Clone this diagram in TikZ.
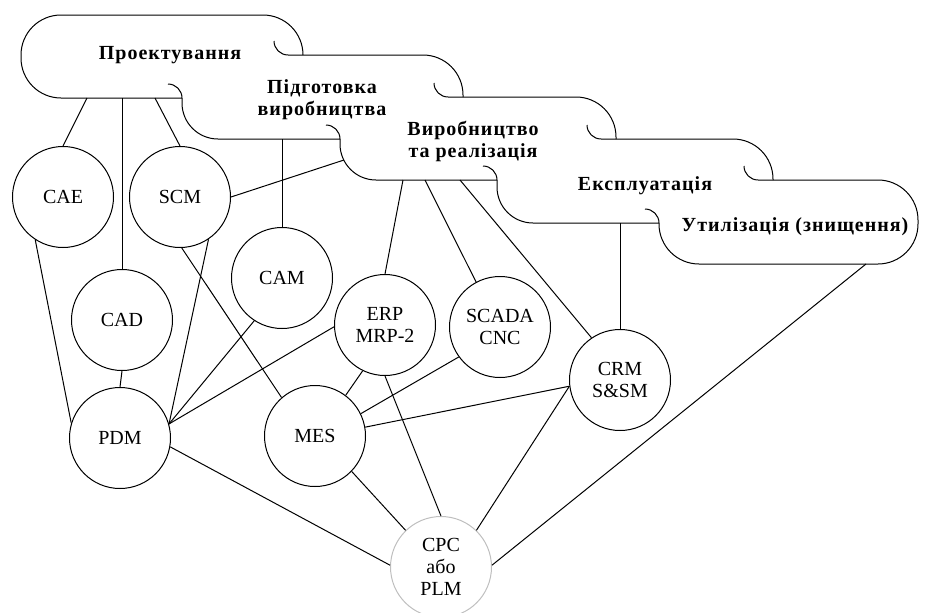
\documentclass[tikz,border=0pt]{standalone}
\usepackage{fontspec}
\setmainfont{Liberation Serif}
\newfontfamily\stagefont[LetterSpace=5]{Liberation Serif}
\usepackage{tikz}

\tikzset{
  sys/.style={circle,draw,minimum size=101pt,inner sep=0pt,align=center,
              font=\fontsize{20}{22}\selectfont},
  stage/.style={align=center,font=\stagefont\fontsize{20}{22}\selectfont\bfseries},
}

\begin{document}
\begin{tikzpicture}[x=1pt,y=-1pt,line width=1pt]
  \useasboundingbox (0,0) rectangle (932,613);

  % life-cycle stages
  \draw[rounded corners=40pt] (182,98) -- (21,98) -- (21,15) -- (303,15) -- (303,55);
  \node[stage] (proekt) at (170,55) {Проектування};

  \draw (274,41) .. controls (274,48.7) and (280.3,55) .. (288,55);
  \draw[rounded corners=40pt] (288,55) -- (463,55) -- (463,97);
  \draw (168,84) .. controls (175.7,84) and (182,90.3) .. (182,98);
  \draw[rounded corners=36pt] (182,98) -- (182,139) -- (340,139);
  \node[stage] (pidgot) at (322,100) {Підготовка\\виробництва};

  \draw (434,83) .. controls (434,90.7) and (440.3,97) .. (448,97);
  \draw[rounded corners=40pt] (448,97) -- (616,97) -- (616,139);
  \draw (326,125) .. controls (333.7,125) and (340,131.3) .. (340,139);
  \draw[rounded corners=36pt] (340,139) -- (340,180) -- (497,180);
  \node[stage] (vyrob) at (473,141) {Виробництво\\та реалізація};

  \draw (587,125) .. controls (587,132.7) and (593.3,139) .. (601,139);
  \draw[rounded corners=40pt] (601,139) -- (773,139) -- (773,180);
  \draw (483,166) .. controls (490.7,166) and (497,172.3) .. (497,180);
  \draw[rounded corners=36pt] (497,180) -- (497,223) -- (659,223);
  \node[stage] (ekspl) at (645,186) {Експлуатація};

  \draw (744,166) .. controls (744,173.7) and (750.3,180) .. (758,180);
  \draw[rounded corners=40pt] (758,180) -- (918,180) -- (918,264) -- (659,264) -- (659,223);
  \draw (645,209) .. controls (652.7,209) and (659,215.3) .. (659,223);
  \node[stage] (utyl) at (795,227) {Утилізація (знищення)};

  % points on the stage outlines
  \coordinate (p1a) at (87,98);
  \coordinate (p1b) at (122,98);
  \coordinate (p1c) at (155,98);
  \coordinate (p2a) at (282,139);
  \coordinate (p3l) at (344,160);
  \coordinate (p3a) at (403,180);
  \coordinate (p3b) at (425,180);
  \coordinate (p3c) at (460,180);
  \coordinate (p4a) at (620,223);
  \coordinate (p5a) at (866,264);

  % systems
  \node[sys] (cae) at (63,197) {CAE};
  \node[sys] (scm) at (180,197) {SCM};
  \node[sys] (cad) at (122,320) {CAD};
  \node[sys] (cam) at (282,278) {CAM};
  \node[sys] (erp) at (385,325) {ERP\\MRP-2};
  \node[sys] (scada) at (500,327) {SCADA\\CNC};
  \node[sys] (crm) at (620,380) {CRM\\S\&SM};
  \node[sys] (pdm) at (120,438) {PDM};
  \node[sys] (mes) at (315,436) {MES};
  \node[sys,draw=gray!50] (cpc) at (441,567) {CPC\\або\\PLM};

  % links
  \draw (p1a) -- (cae.north);
  \draw (p1b) -- (cad.north);
  \draw (p1c) -- (scm.north);
  \draw (p2a) -- (cam.north);
  \draw (scm.east) -- (p3l);
  \draw (p3a) -- (erp.north);
  \draw (p3b) -- (scada.118);
  \draw (p3c) -- (crm.124);
  \draw (p4a) -- (crm.north);
  \draw (cae.237) -- (pdm.163);
  \draw (cad.south) -- (pdm.north);
  \draw (scm.304) -- (pdm.16);
  \draw (scm.272) -- (mes.131);
  \draw (cam.237) -- (pdm.16);
  \draw (erp.182) -- (pdm.16);
  \draw (erp.244) -- (mes.53);
  \draw (erp.south) -- (cpc.north);
  \draw (scada.216) -- (mes.26);
  \draw (mes.10) -- (crm.187);
  \draw (cpc.46) -- (crm.187);
  \draw (pdm.350) -- (cpc.178);
  \draw (mes.316) -- (cpc.134);
  \draw (cpc.2) -- (p5a);
\end{tikzpicture}
\end{document}
